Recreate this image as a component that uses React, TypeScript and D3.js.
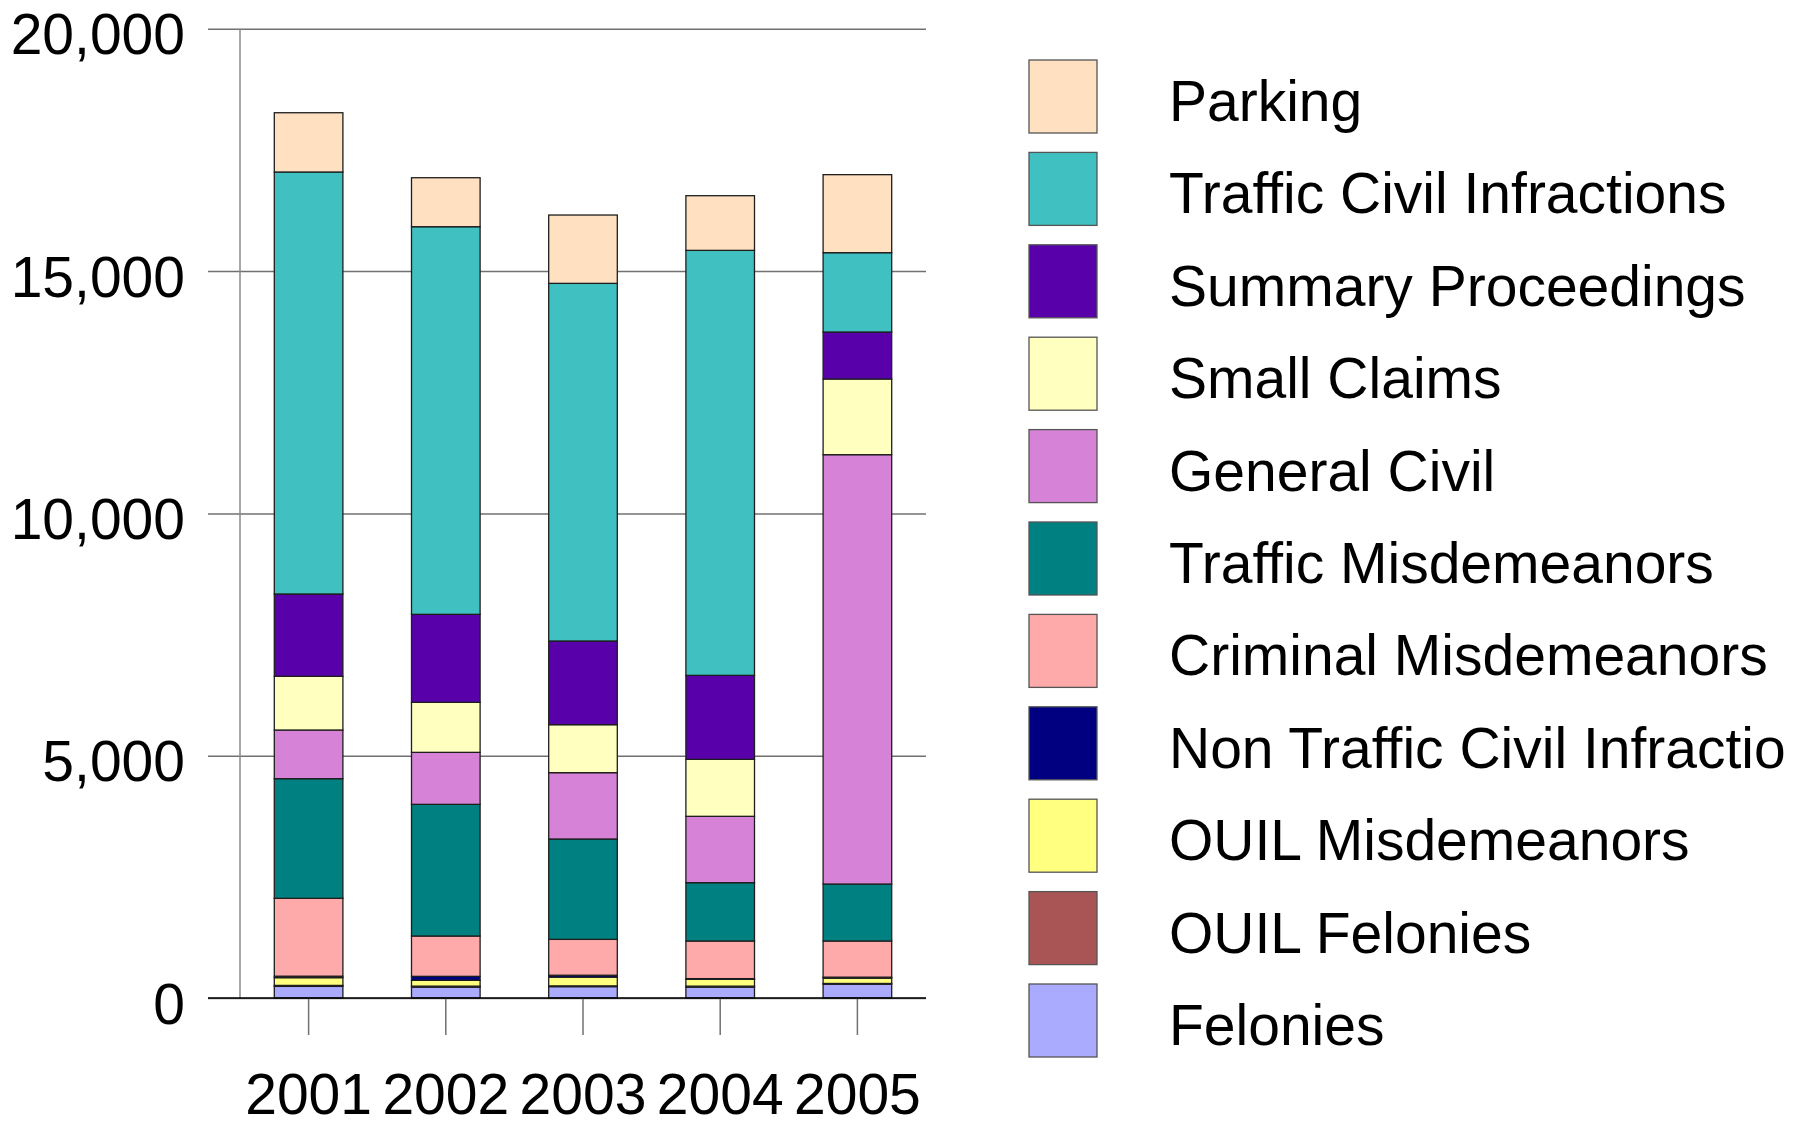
import { useEffect, useRef } from "react";
import * as d3 from "d3";

const years = ["2001", "2002", "2003", "2004", "2005"];

// bottom to top stacking order
const felonies = [240, 225, 235, 225, 285];
const ouilFelonies = [20, 20, 15, 20, 15];
const ouilMisdemeanors = [160, 120, 180, 140, 110];
const nonTrafficCivil = [30, 82, 40, 15, 20];
const criminalMisdemeanors = [1607, 832, 740, 776, 746];
const trafficMisdemeanors = [2469, 2717, 2071, 1204, 1176];
const generalCivil = [1004, 1073, 1369, 1369, 8860];
const smallClaims = [1108, 1032, 990, 1176, 1561];
const summaryProceedings = [1699, 1816, 1727, 1733, 970];
const trafficCivil = [8708, 7999, 7380, 8770, 1637];
const parking = [1223, 1011, 1410, 1128, 1610];

const seriesNames = [
    "Felonies",
    "OUIL Felonies",
    "OUIL Misdemeanors",
    "Non Traffic Civil Infractions",
    "Criminal Misdemeanors",
    "Traffic Misdemeanors",
    "General Civil",
    "Small Claims",
    "Summary Proceedings",
    "Traffic Civil Infractions",
    "Parking",
];
const seriesValues = [
    felonies,
    ouilFelonies,
    ouilMisdemeanors,
    nonTrafficCivil,
    criminalMisdemeanors,
    trafficMisdemeanors,
    generalCivil,
    smallClaims,
    summaryProceedings,
    trafficCivil,
    parking,
];
const seriesColors = [
    "#aaaaff",
    "#aa5555",
    "#ffff80",
    "#000080",
    "#ffaaaa",
    "#008080",
    "#d682d6",
    "#ffffc0",
    "#5800aa",
    "#40c0c0",
    "#ffe0c0",
];
// legend text as it shows in the picture (last one is cut off)
const legendLabels = [
    "Felonies",
    "OUIL Felonies",
    "OUIL Misdemeanors",
    "Non Traffic Civil Infractio",
    "Criminal Misdemeanors",
    "Traffic Misdemeanors",
    "General Civil",
    "Small Claims",
    "Summary Proceedings",
    "Traffic Civil Infractions",
    "Parking",
];

const yTicks = [0, 5000, 10000, 15000, 20000];

const FONT = "'Liberation Sans', Arial, sans-serif";

function App() {
    const svgRef = useRef<SVGSVGElement | null>(null);

    useEffect(() => {
        const Width = 1809;
        const Height = 1122;
        const left = 240;
        const right = 926;
        const top = 28.8;
        const bottom = 998;

        const svg = d3.select(svgRef.current);
        svg.selectAll("*").remove();

        const table = years.map((year, i) => {
            const row: any = { year };
            seriesNames.forEach((name, s) => (row[name] = seriesValues[s][i]));
            return row;
        });

        const stacked = d3.stack<any>().keys(seriesNames)(table);

        const xScale = d3
            .scaleBand<string>()
            .domain(years)
            .range([left, right])
            .paddingInner(0.5)
            .paddingOuter(0.25);

        const yScale = d3
            .scaleLinear()
            .domain([0, 20000])
            .range([bottom, top]);

        // grid + y labels
        const yAxis = d3
            .axisLeft(yScale)
            .tickValues(yTicks)
            .tickSize(-(right - 208))
            .tickPadding(23)
            .tickFormat((d) => d3.format(",")(d as number));

        const yG = svg
            .append("g")
            .attr("transform", "translate(208,0)")
            .call(yAxis);
        yG.select(".domain").remove();
        yG.selectAll(".tick line")
            .attr("stroke", "#707070")
            .attr("stroke-width", 1.5);
        yG.selectAll(".tick text")
            .attr("fill", "#000")
            .attr("dy", "0.44em")
            .style("font-size", "57px")
            .style("font-family", FONT);

        // y axis line
        svg.append("line")
            .attr("x1", left)
            .attr("x2", left)
            .attr("y1", top)
            .attr("y2", bottom)
            .attr("stroke", "#8a8a8a")
            .attr("stroke-width", 1.5);

        // bars
        svg.append("g")
            .selectAll("g")
            .data(stacked)
            .join("g")
            .attr("fill", (d, i) => seriesColors[i])
            .selectAll("rect")
            .data((d) => d)
            .join("rect")
            .attr("x", (d) => xScale(d.data.year) as number)
            .attr("width", xScale.bandwidth())
            .attr("y", (d) => yScale(d[1]))
            .attr("height", (d) => yScale(d[0]) - yScale(d[1]))
            .attr("stroke", "#1e1e1e")
            .attr("stroke-width", 1.3);

        // x axis
        const xAxis = d3.axisBottom(xScale).tickSize(37).tickPadding(39);
        const xG = svg
            .append("g")
            .attr("transform", "translate(0," + bottom + ")")
            .call(xAxis);
        xG.select(".domain").remove();
        xG.selectAll(".tick line")
            .attr("stroke", "#707070")
            .attr("stroke-width", 1.5);
        xG.selectAll(".tick text")
            .attr("fill", "#000")
            .style("font-size", "57px")
            .style("font-family", FONT);

        svg.append("line")
            .attr("x1", 208)
            .attr("x2", right)
            .attr("y1", bottom)
            .attr("y2", bottom)
            .attr("stroke", "#000")
            .attr("stroke-width", 1.5);

        // legend, Parking on top
        const order = d3.range(seriesNames.length).reverse();
        const legendY = d3
            .scaleLinear()
            .domain([0, order.length - 1])
            .range([60, 984]);

        const legend = svg
            .append("g")
            .selectAll("g")
            .data(order)
            .join("g")
            .attr("transform", (s, row) => "translate(1029," + legendY(row) + ")");

        legend
            .append("rect")
            .attr("width", 68)
            .attr("height", 73)
            .attr("fill", (s) => seriesColors[s])
            .attr("stroke", "#555")
            .attr("stroke-width", 1.3);

        legend
            .append("text")
            .attr("x", 140)
            .attr("y", 61)
            .attr("fill", "#000")
            .style("font-size", "57px")
            .style("font-family", FONT)
            .text((s) => legendLabels[s]);

        svg.attr("width", Width).attr("height", Height);
    }, []);

    return (
        <svg
            ref={svgRef}
            style={{ position: "absolute", left: 0, top: 0, background: "#fff" }}
        ></svg>
    );
}

export default App;
